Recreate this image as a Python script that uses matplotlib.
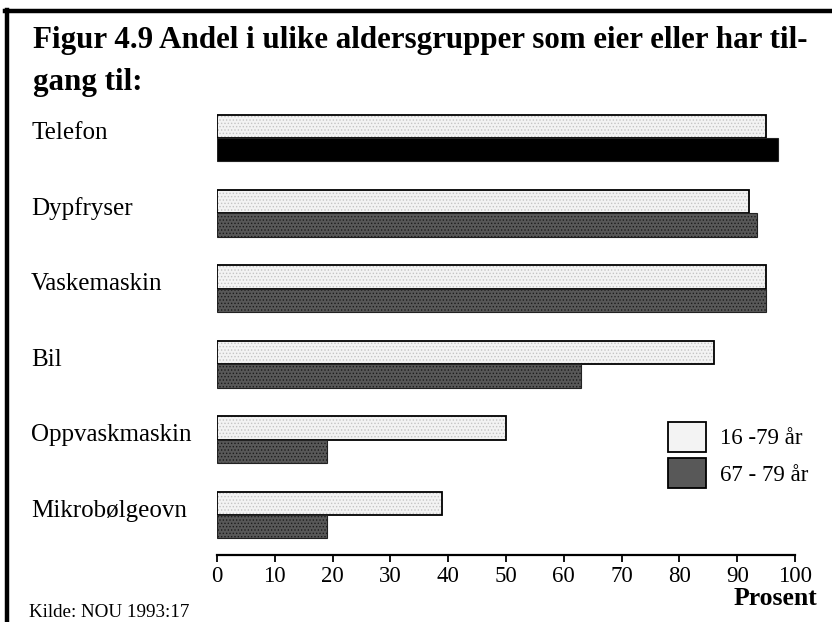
import matplotlib.pyplot as plt
from matplotlib.lines import Line2D
from matplotlib.patches import Patch
import numpy as np

plt.rcParams['font.family'] = ['Liberation Serif', 'DejaVu Serif']
plt.rcParams['hatch.linewidth'] = 0.6

# Andel (prosent) som eier eller har tilgang til
categories = ['Telefon', 'Dypfryser', 'Vaskemaskin', 'Bil',
              'Oppvaskmaskin', 'Mikrobølgeovn']
all_ages = [95, 92, 95, 86, 50, 39]      # 16-79 år
elderly = [97, 93.5, 95, 63, 19, 19]     # 67-79 år
series_labels = ['16 -79 år', '67 - 79 år']
x_ticks = list(range(0, 101, 10))

W, H = 832, 622
fig = plt.figure(figsize=(W / 100, H / 100), dpi=100)
ax = fig.add_axes([217 / W, 1 - 555 / H, 578 / W, (555 - 112) / H])

y = np.arange(len(categories))
bh = 0.31
light_face, light_hatch = '#f3f3f3', '#c4c4c4'
dark_face, dark_hatch = '#585858', '#1c1c1c'

# light bars: dotted fill, then black outline on top
ax.barh(y - bh / 2, all_ages, height=bh, color=light_face,
        edgecolor=light_hatch, hatch='.....', linewidth=0)
ax.barh(y - bh / 2, all_ages, height=bh, color='none',
        edgecolor='black', linewidth=1.3)

# dark bars; the first one (Telefon) is printed solid black
dark_colors = ['black'] + [dark_face] * (len(categories) - 1)
dark_edges = ['black'] + [dark_hatch] * (len(categories) - 1)
ax.barh(y + bh / 2, elderly, height=bh, color=dark_colors,
        edgecolor=dark_edges, hatch='.....', linewidth=0)
ax.barh(y + bh / 2, elderly, height=bh, color='none',
        edgecolor='#222222', linewidth=0.8)

ax.set_xlim(0, 100)
ax.set_ylim(5.53, -0.345)
ax.set_xticks(x_ticks)
ax.set_xticklabels([str(t) for t in x_ticks], fontsize=16.5)
ax.tick_params(axis='x', direction='out', length=5, width=1.3, pad=3)
ax.set_yticks([])
for side in ['top', 'right', 'left']:
    ax.spines[side].set_visible(False)
ax.spines['bottom'].set_linewidth(1.6)

# category names at the left margin
trans = ax.get_yaxis_transform()
for yi, name in zip(y, categories):
    ax.text(-(217 - 31) / 578, yi - 0.06, name, transform=trans,
            ha='left', va='center', fontsize=18)

# legend
handles = [Patch(facecolor=light_face, edgecolor='black', linewidth=1.3),
           Patch(facecolor=dark_face, edgecolor='black', linewidth=1.3)]
fig.legend(handles, series_labels, loc='upper left',
           bbox_to_anchor=(659 / W, 1 - 413 / H), frameon=False,
           fontsize=16.5, handlelength=1.65, handleheight=1.6,
           labelspacing=0.3, handletextpad=0.6, borderaxespad=0)

# title and footer text
fig.text(33 / W, 1 - 48 / H, 'Figur 4.9 Andel i ulike aldersgrupper som eier eller har til-',
         fontsize=22.3, fontweight='bold', ha='left', va='baseline')
fig.text(33 / W, 1 - 90 / H, 'gang til:',
         fontsize=22.3, fontweight='bold', ha='left', va='baseline')
fig.text(817 / W, 1 - 605 / H, 'Prosent', fontsize=18.5, fontweight='bold',
         ha='right', va='baseline')
fig.text(29 / W, 1 - 617 / H, 'Kilde: NOU 1993:17', fontsize=13.7,
         ha='left', va='baseline')

# frame: thick rule along the top and left edge
fig.add_artist(Line2D([5 / W, 1], [1 - 11 / H, 1 - 11 / H], color='black',
                      linewidth=3.2, transform=fig.transFigure))
fig.add_artist(Line2D([7 / W, 7 / W], [1 - 9.5 / H, 0], color='black',
                      linewidth=3.2, transform=fig.transFigure))

fig.savefig('out.png', dpi=100)
